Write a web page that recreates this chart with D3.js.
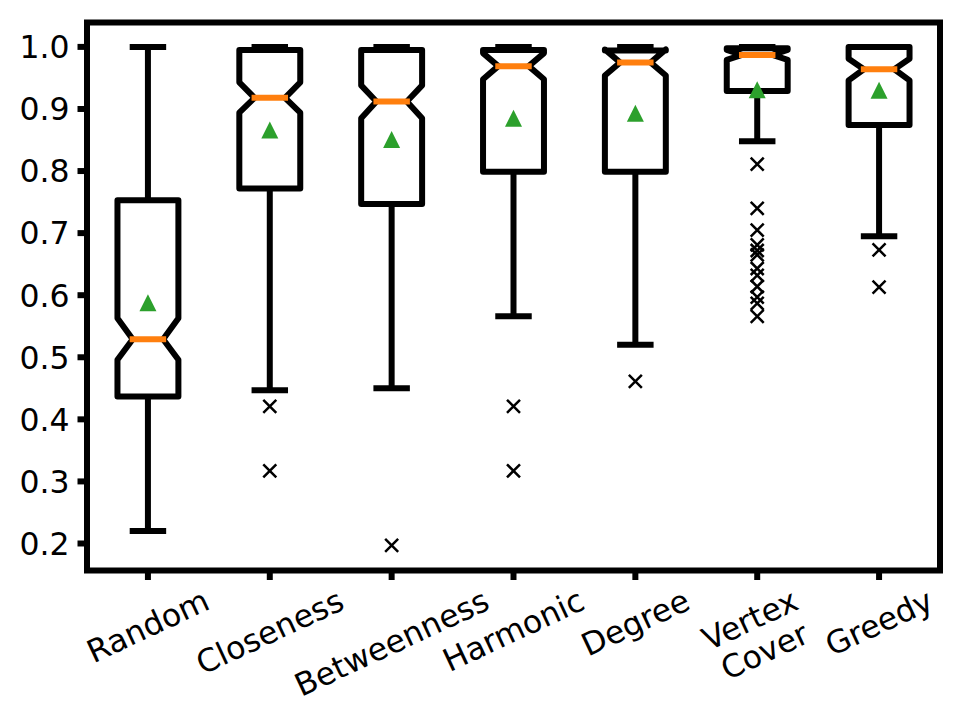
<!DOCTYPE html>
<html>
<head>
<meta charset="utf-8">
<script src="https://cdn.jsdelivr.net/npm/d3@7"></script>
<style>
  html, body { margin: 0; padding: 0; background: #fff; }
  svg { display: block; font-family: "DejaVu Sans", sans-serif; }
</style>
</head>
<body>
<svg id="chart" width="968" height="726"></svg>
<script>
// notched boxplot, stats
const categories = ['Random', 'Closeness', 'Betweenness', 'Harmonic', 'Degree', 'Vertex\nCover', 'Greedy'];
const q1 =        [0.437, 0.772, 0.747, 0.799, 0.799, 0.929, 0.874];
const medians =   [0.529, 0.918, 0.912, 0.969, 0.975, 0.987, 0.964];
const q3 =        [0.753, 0.995, 0.995, 0.995, 0.994, 0.998, 1.000];
const notchLo =   [0.496, 0.894, 0.885, 0.948, 0.954, 0.979, 0.946];
const notchHi =   [0.563, 0.943, 0.938, 0.990, 0.996, 0.995, 0.981];
const whiskerLo = [0.220, 0.447, 0.450, 0.566, 0.520, 0.848, 0.695];
const whiskerHi = [1.000, 1.000, 1.000, 1.000, 1.000, 1.000, 1.000];
const means =     [0.588, 0.866, 0.851, 0.885, 0.893, 0.931, 0.930];
const outliers = [
  [],
  [0.421, 0.317],
  [0.197],
  [0.421, 0.317],
  [0.461],
  [0.811, 0.740, 0.705, 0.681, 0.672, 0.665, 0.643, 0.632, 0.614, 0.597, 0.587, 0.566],
  [0.673, 0.613]
];
const yTicks = [0.2, 0.3, 0.4, 0.5, 0.6, 0.7, 0.8, 0.9, 1.0];

const ORANGE = '#ff7f0e';
const GREEN = '#2ca02c';
const LW = 6;
const FS = 31.5;

const svg = d3.select('#chart');
const mLeft = 87, mRight = 940, mTop = 22.5, mBottom = 570.5;

const x = d3.scaleLinear().domain([0.5, 7.5]).range([mLeft, mRight]);
const y = d3.scaleLinear().domain([0.1565, 1.0393]).range([mBottom, mTop]);

const boxW = 0.5;
const plot = svg.append('g');

categories.forEach((c, i) => {
  const pos = i + 1;
  const bl = x(pos - boxW / 2), br = x(pos + boxW / 2);
  const cl = x(pos - boxW / 4), cr = x(pos + boxW / 4);

  // whiskers
  plot.append('line')
    .attr('x1', x(pos)).attr('x2', x(pos))
    .attr('y1', y(q1[i])).attr('y2', y(whiskerLo[i]))
    .attr('stroke', '#000').attr('stroke-width', LW);
  plot.append('line')
    .attr('x1', x(pos)).attr('x2', x(pos))
    .attr('y1', y(q3[i])).attr('y2', y(whiskerHi[i]))
    .attr('stroke', '#000').attr('stroke-width', LW);

  // caps
  [whiskerLo[i], whiskerHi[i]].forEach(v => {
    plot.append('line')
      .attr('x1', cl).attr('x2', cr)
      .attr('y1', y(v)).attr('y2', y(v))
      .attr('stroke', '#000').attr('stroke-width', LW)
      .attr('stroke-linecap', 'square');
  });

  // notched box
  const pts = [
    [bl, q1[i]], [br, q1[i]], [br, notchLo[i]], [cr, medians[i]], [br, notchHi[i]],
    [br, q3[i]], [bl, q3[i]], [bl, notchHi[i]], [cl, medians[i]], [bl, notchLo[i]], [bl, q1[i]]
  ];
  plot.append('path')
    .attr('d', d3.line().x(d => d[0]).y(d => y(d[1]))(pts) + 'Z')
    .attr('fill', 'none')
    .attr('stroke', '#000').attr('stroke-width', LW)
    .attr('stroke-linejoin', 'round');

  // median
  plot.append('line')
    .attr('x1', cl).attr('x2', cr)
    .attr('y1', y(medians[i])).attr('y2', y(medians[i]))
    .attr('stroke', ORANGE).attr('stroke-width', LW)
    .attr('stroke-linecap', 'square');

  // outliers
  const s = 6.5;
  outliers[i].forEach(v => {
    const px = x(pos), py = y(v);
    plot.append('path')
      .attr('d', `M${px - s},${py - s}L${px + s},${py + s}M${px - s},${py + s}L${px + s},${py - s}`)
      .attr('stroke', '#000').attr('stroke-width', 2.5);
  });

  // mean
  const t = 8.5;
  const mx = x(pos), my = y(means[i]);
  plot.append('path')
    .attr('d', `M${mx},${my - t}L${mx + t},${my + t}L${mx - t},${my + t}Z`)
    .attr('fill', GREEN);
});

// y axis
const yAxis = svg.append('g');
yTicks.forEach(v => {
  yAxis.append('line')
    .attr('x1', mLeft).attr('x2', mLeft - 9.5)
    .attr('y1', y(v)).attr('y2', y(v))
    .attr('stroke', '#000').attr('stroke-width', LW);
  yAxis.append('text')
    .attr('x', mLeft - 9.5 - 8)
    .attr('y', y(v))
    .attr('dy', '0.36em')
    .attr('text-anchor', 'end')
    .attr('font-size', FS)
    .text(v.toFixed(1));
});

// x axis
const theta = 25 * Math.PI / 180;
const labelTop = mBottom + 9.5 + 2;
const xAxis = svg.append('g');
categories.forEach((c, i) => {
  const px = x(i + 1);
  xAxis.append('line')
    .attr('x1', px).attr('x2', px)
    .attr('y1', mBottom).attr('y2', mBottom + 9.5)
    .attr('stroke', '#000').attr('stroke-width', LW);

  const g = xAxis.append('g');
  const txt = g.append('text')
    .attr('text-anchor', 'middle')
    .attr('font-size', FS);
  const lines = c.split('\n');
  lines.forEach((ln, k) => {
    txt.append('tspan').attr('x', 0).attr('dy', k === 0 ? 0 : '1.1em').text(ln);
  });
  const bb = txt.node().getBBox();
  txt.attr('transform', `translate(0,${-(bb.y + bb.height / 2)})`);
  const H = bb.width * Math.sin(theta) + bb.height * Math.cos(theta);
  g.attr('transform', `translate(${px},${labelTop + H / 2}) rotate(-25)`);
});

// frame
svg.append('rect')
  .attr('x', mLeft).attr('y', mTop)
  .attr('width', mRight - mLeft).attr('height', mBottom - mTop)
  .attr('fill', 'none')
  .attr('stroke', '#000').attr('stroke-width', LW);
</script>
</body>
</html>
